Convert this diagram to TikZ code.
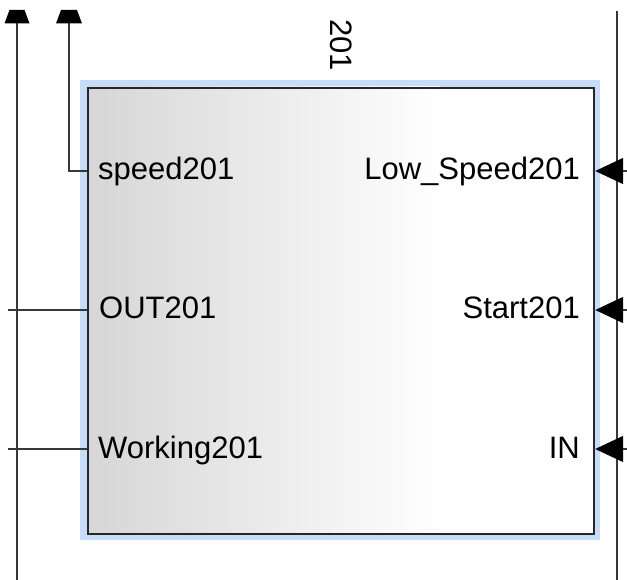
\documentclass[tikz,border=0pt]{standalone}
\usepackage{fontspec}
\setmainfont{Liberation Sans}
\usetikzlibrary{arrows.meta}
\definecolor{selblue}{HTML}{C6DDF9}
\definecolor{wire}{HTML}{383838}
\definecolor{leftgray}{HTML}{D6D6D6}
\begin{document}
\begin{tikzpicture}[x=1pt,y=-1pt,
  lbl/.style={font=\fontsize{31}{36}\selectfont, inner sep=0pt, text=black},
  wireline/.style={draw=wire, line width=1.4pt},
  inarrow/.style={wireline, -{Triangle[length=28pt,width=26pt,black]}},
  uptip/.style={fill=black},
]
\useasboundingbox (0,0) rectangle (627,580);
% selection frame
\fill[selblue] (80,80) rectangle (600,540);
% block background
\fill[white] (87,87) rectangle (593,533);
\shade[left color=leftgray, right color=white] (87,87) rectangle (440,533);
% block
\node[draw=black!85, line width=2.2pt, minimum width=506pt, minimum height=446pt, inner sep=0pt, anchor=north west] (blk) at (87,87) {};
% title
\node[lbl, rotate=-90] (title) at (341,45) {201};
% port labels
\node[lbl, anchor=base west] (sp) at (98,180) {speed201};
\node[lbl, anchor=base west] (out) at (99,319) {OUT201};
\node[lbl, anchor=base west] (wk) at (98,458) {Working201};
\node[lbl, anchor=base east] (ls) at (580,180) {Low\_Speed201};
\node[lbl, anchor=base east] (st) at (580,319) {Start201};
\node[lbl, anchor=base east] (in) at (580,458) {IN};
% port coordinates on block edges
\coordinate (pSp) at (blk.west |- 0,171);
\coordinate (pOut) at (blk.west |- 0,310);
\coordinate (pWk) at (blk.west |- 0,449);
\coordinate (pLs) at (blk.east |- 0,171);
\coordinate (pSt) at (blk.east |- 0,310);
\coordinate (pIn) at (blk.east |- 0,449);
% free ends
\coordinate (t1) at (17,23);
\coordinate (b1) at (17,580);
\coordinate (t2) at (69,23);
\coordinate (eOut) at (8,310);
\coordinate (eWk) at (8,449);
\coordinate (rTop) at (617,11);
\coordinate (rBot) at (617,580);
\coordinate (eLs) at (627,171);
\coordinate (eSt) at (627,310);
\coordinate (eIn) at (627,449);
% left wires
\draw[wireline] (b1) -- (t1);
\draw[wireline] (pSp) -| (t2);
\draw[wireline] (eOut) -- (pOut);
\draw[wireline] (eWk) -- (pWk);
% top arrow heads (flat-topped)
\fill[uptip] (t1) ++(-12.5,0.5) -- ++(25,0) -- ++(-5,-13.5) -- ++(-15,0) -- cycle;
\fill[uptip] (t2) ++(-13,0.5) -- ++(26,0) -- ++(-5,-13.5) -- ++(-16,0) -- cycle;
% right wire
\draw[wireline] (rTop) -- (rBot);
\draw[inarrow] (eLs) -- (pLs);
\draw[inarrow] (eSt) -- (pSt);
\draw[inarrow] (eIn) -- (pIn);
\end{tikzpicture}
\end{document}
